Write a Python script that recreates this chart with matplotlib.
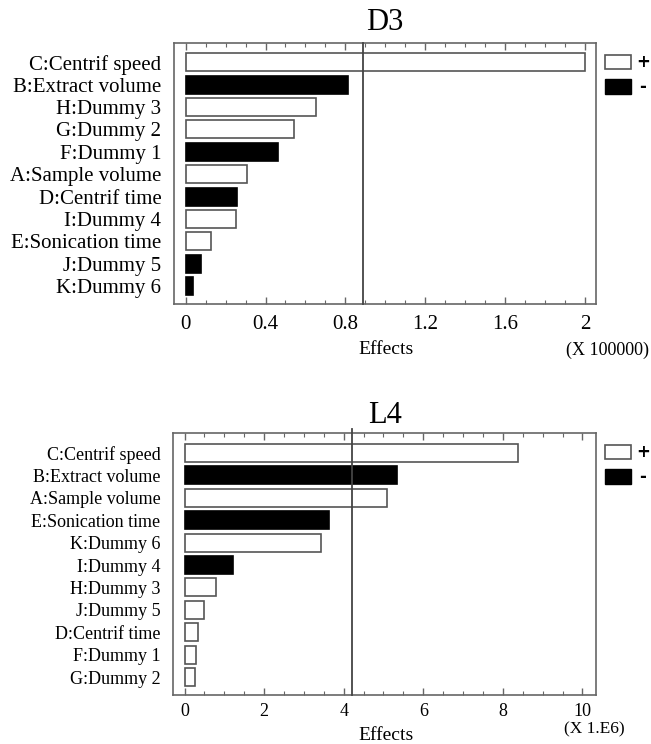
import matplotlib
matplotlib.use("Agg")
import matplotlib.pyplot as plt
from matplotlib.patches import Rectangle
from matplotlib.ticker import MultipleLocator

plt.rcParams['font.family'] = ['Liberation Serif', 'DejaVu Serif']

# ---- data ----
d3_labels = ["C:Centrif speed", "B:Extract volume", "H:Dummy 3", "G:Dummy 2", "F:Dummy 1",
             "A:Sample volume", "D:Centrif time", "I:Dummy 4", "E:Sonication time",
             "J:Dummy 5", "K:Dummy 6"]
d3_values = [2.0, 0.815, 0.653, 0.543, 0.463, 0.307, 0.256, 0.254, 0.125, 0.077, 0.035]
d3_signs = ["+", "-", "+", "+", "-", "+", "-", "+", "+", "-", "-"]
d3_ref = 0.888

l4_labels = ["C:Centrif speed", "B:Extract volume", "A:Sample volume", "E:Sonication time",
             "K:Dummy 6", "I:Dummy 4", "H:Dummy 3", "J:Dummy 5", "D:Centrif time",
             "F:Dummy 1", "G:Dummy 2"]
l4_values = [8.38, 5.33, 5.08, 3.63, 3.42, 1.22, 0.80, 0.50, 0.35, 0.28, 0.26]
l4_signs = ["+", "-", "+", "-", "+", "-", "+", "+", "+", "+", "+"]
l4_ref = 4.2

W, H = 651, 744
fig = plt.figure(figsize=(W / 100, H / 100), dpi=100)


def fx(x):
    return x / W


def fy(y):
    return 1 - y / H


EDGE = '#555555'
SPINE = '#666666'


def panel(rect_px, labels, values, signs, ref, xlim, ylim, minor, major, ticks, ticklabels,
          title, title_y, tick_fs, tick_pad, ylab_fs, legend_y, eff_y, mult_text, mult_xy,
          mult_fs, line_ext):
    l, t, r, b = rect_px
    ax = fig.add_axes([fx(l), fy(b), (r - l) / W, (b - t) / H])
    ypos = list(range(len(labels)))
    colors = ['white' if s == '+' else 'black' for s in signs]
    edges = [EDGE if s == '+' else 'black' for s in signs]
    ax.barh(ypos, values, height=0.8, color=colors, edgecolor=edges, linewidth=1.2, zorder=2)
    ax.axvline(ref, color='#444444', linewidth=1.3, zorder=3, ymax=1 + line_ext, clip_on=False)
    ax.set_xlim(*xlim)
    ax.set_ylim(*ylim)
    ax.set_yticks(ypos)
    ax.set_yticklabels(labels, fontsize=ylab_fs)
    ax.tick_params(axis='y', length=0, pad=9)
    ax.set_xticks(ticks)
    ax.set_xticklabels(ticklabels, fontsize=tick_fs)
    ax.xaxis.set_minor_locator(MultipleLocator(minor))
    ax.tick_params(axis='x', which='major', direction='in', length=5, width=1,
                   top=True, bottom=True, color=SPINE, pad=tick_pad)
    ax.tick_params(axis='x', which='minor', direction='in', length=3, width=0.8,
                   top=True, bottom=True, color=SPINE)
    for s in ax.spines.values():
        s.set_color(SPINE)
        s.set_linewidth(1.2)
    fig.text(fx(385), fy(title_y), title, fontsize=22, ha='center', va='center')
    # legend
    fig.patches.append(Rectangle((fx(605), fy(legend_y + 14)), 26 / W, 14 / H,
                                 transform=fig.transFigure, facecolor='white',
                                 edgecolor=EDGE, linewidth=1.2))
    fig.patches.append(Rectangle((fx(605), fy(legend_y + 39)), 26 / W, 15 / H,
                                 transform=fig.transFigure, facecolor='black',
                                 edgecolor='black', linewidth=1.0))
    fig.text(fx(643), fy(legend_y + 7), '+', fontsize=12, ha='center', va='center',
             family='DejaVu Sans', fontweight='bold')
    fig.text(fx(643), fy(legend_y + 32), '-', fontsize=12, ha='center', va='center',
             family='DejaVu Sans', fontweight='bold')
    fig.text(fx(386), fy(eff_y), 'Effects', fontsize=14, ha='center', va='center')
    fig.text(fx(mult_xy[0]), fy(mult_xy[1]), mult_text, fontsize=mult_fs,
             ha='center', va='center')
    return ax


panel((174, 43, 596, 304), d3_labels, d3_values, d3_signs, d3_ref,
      (-0.0586, 2.0556), (10.8, -0.86), 0.1, 0.4,
      [0, 0.4, 0.8, 1.2, 1.6, 2.0], ["0", "0.4", "0.8", "1.2", "1.6", "2"],
      "D3", 22, 15, 8, 15, 55, 350, "(X 100000)", (607, 350), 13, 0.0)

panel((173, 433, 596, 695), l4_labels, l4_values, l4_signs, l4_ref,
      (-0.289, 10.34), (10.8, -0.89), 0.5, 2,
      [0, 2, 4, 6, 8, 10], ["0", "2", "4", "6", "8", "10"],
      "L4", 416, 13, 6, 13, 445, 735, "(X 1.E6)", (594, 729), 12.5, 0.016)

fig.savefig("out.png", dpi=100)
